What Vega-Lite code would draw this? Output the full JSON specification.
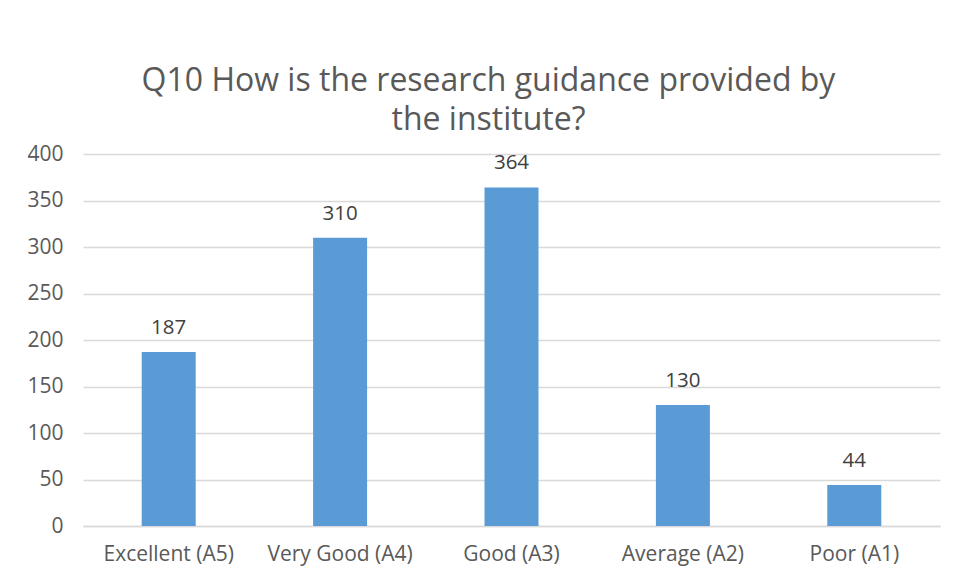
{
  "$schema": "https://vega.github.io/schema/vega-lite/v6.json",
  "width": 857,
  "height": 372,
  "autosize": {"type": "none"},
  "padding": {"left": 83, "top": 154, "right": 18, "bottom": 55},
  "background": "white",
  "title": {
    "text": ["Q10 How is the research guidance provided by", "the institute?"],
    "fontSize": 32,
    "font": "Open Sans",
    "fontWeight": "normal",
    "color": "#595959",
    "lineHeight": 39,
    "anchor": "middle",
    "dx": -23,
    "offset": 6
  },
  "data": {
    "values": [
      {"category": "Excellent (A5)", "count": 187},
      {"category": "Very Good (A4)", "count": 310},
      {"category": "Good (A3)", "count": 364},
      {"category": "Average (A2)", "count": 130},
      {"category": "Poor (A1)", "count": 44}
    ]
  },
  "encoding": {
    "x": {
      "field": "category",
      "type": "nominal",
      "sort": null,
      "scale": {"paddingInner": 0, "paddingOuter": 0},
      "axis": {
        "title": null,
        "labelAngle": 0,
        "ticks": false,
        "domainColor": "#d9d9d9",
        "domainWidth": 1.5,
        "labelFontSize": 21,
        "labelFont": "Open Sans",
        "labelColor": "#595959",
        "labelPadding": 17
      }
    },
    "y": {
      "field": "count",
      "type": "quantitative",
      "scale": {"domain": [0, 400]},
      "axis": {
        "title": null,
        "values": [0, 50, 100, 150, 200, 250, 300, 350, 400],
        "domain": false,
        "ticks": false,
        "gridColor": "#d9d9d9",
        "gridWidth": 1.5,
        "labelFontSize": 21,
        "labelFont": "Open Sans",
        "labelColor": "#595959",
        "labelPadding": 20
      }
    }
  },
  "layer": [
    {"mark": {"type": "bar", "size": 54, "color": "#5B9BD5"}},
    {
      "mark": {"type": "text", "dy": -24, "fontSize": 20.5, "font": "Open Sans", "color": "#404040"},
      "encoding": {"text": {"field": "count", "type": "quantitative"}}
    }
  ],
  "config": {"view": {"stroke": null}}
}
